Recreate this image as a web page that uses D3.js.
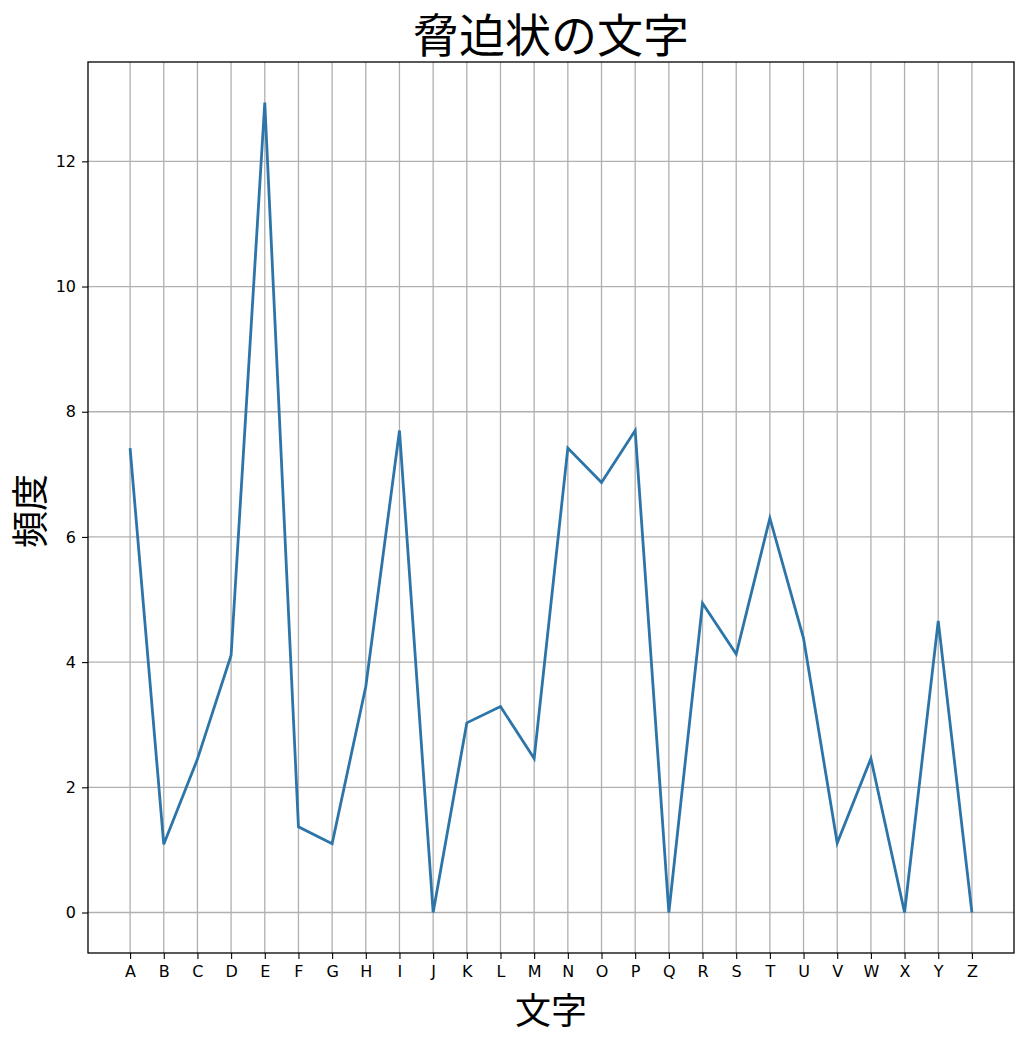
<!DOCTYPE html>
<html><head><meta charset="utf-8">
<script src="https://cdn.jsdelivr.net/npm/d3@7"></script>
<style>
body{margin:0;background:#fff;}
svg{display:block;}
.tick text{font-family:"DejaVu Sans",sans-serif;font-size:16px;fill:#000;}
</style></head>
<body><svg id="c" width="1024" height="1040"></svg>
<script>
const letters = ["A","B","C","D","E","F","G","H","I","J","K","L","M","N","O","P","Q","R","S","T","U","V","W","X","Y","Z"];
const freqs = [7.42,1.09,2.45,4.11,12.94,1.37,1.10,3.61,7.70,0.0,3.03,3.29,2.46,7.42,6.87,7.70,0.0,4.94,4.13,6.30,4.38,1.11,2.46,0.0,4.66,0.0];
const yTicks = [0,2,4,6,8,10,12];
const titleText = "脅迫状の文字";
const xLabel = "文字";
const yLabel = "頻度";

const svg = d3.select("#c");
const m = {l:88, r:1014, t:62, b:953};
const n = letters.length;
const x = d3.scaleLinear().domain([-0.05*(n-1), (n-1)*1.05]).range([m.l, m.r]);
const ymax = d3.max(freqs);
const y = d3.scaleLinear().domain([-0.05*ymax, ymax*1.05]).range([m.b, m.t]);

const fontCJK = "'Noto Sans CJK JP','Noto Sans CJK SC',sans-serif";

// grid
const g = svg.append("g");
g.selectAll("line.vx").data(letters).join("line")
  .attr("x1",(d,i)=>x(i)).attr("x2",(d,i)=>x(i)).attr("y1",m.t).attr("y2",m.b)
  .attr("stroke","#b0b0b0").attr("stroke-width",1.3);
g.selectAll("line.hy").data(yTicks).join("line")
  .attr("y1",d=>y(d)).attr("y2",d=>y(d)).attr("x1",m.l).attr("x2",m.r)
  .attr("stroke","#b0b0b0").attr("stroke-width",1.3);

// line
svg.append("path").datum(freqs)
  .attr("d", d3.line().x((d,i)=>x(i)).y(d=>y(d)))
  .attr("fill","none").attr("stroke","#2d75a9").attr("stroke-width",2.8)
  .attr("stroke-linejoin","miter");

// axes
const xa = svg.append("g").attr("transform",`translate(0,${m.b})`)
  .call(d3.axisBottom(x).tickValues(d3.range(n)).tickFormat(i=>letters[i]).tickSize(6).tickPadding(7));
const ya = svg.append("g").attr("transform",`translate(${m.l},0)`)
  .call(d3.axisLeft(y).tickValues(yTicks).tickSize(6).tickPadding(6));
[xa,ya].forEach(a=>{a.select(".domain").remove(); a.selectAll(".tick line").attr("stroke","#000").attr("stroke-width",1.1);});

svg.append("rect").attr("x",m.l).attr("y",m.t).attr("width",m.r-m.l).attr("height",m.b-m.t)
  .attr("fill","none").attr("stroke","#000").attr("stroke-width",1.3);

// titles
svg.append("text").attr("x",(m.l+m.r)/2).attr("y",52).attr("text-anchor","middle")
  .attr("font-family",fontCJK).attr("font-size",46).text(titleText);
svg.append("text").attr("x",(m.l+m.r)/2).attr("y",1024).attr("text-anchor","middle")
  .attr("font-family",fontCJK).attr("font-size",36).text(xLabel);
svg.append("text").attr("transform",`translate(44,511) rotate(-90)`).attr("text-anchor","middle")
  .attr("font-family",fontCJK).attr("font-size",37).text(yLabel);
</script></body></html>
